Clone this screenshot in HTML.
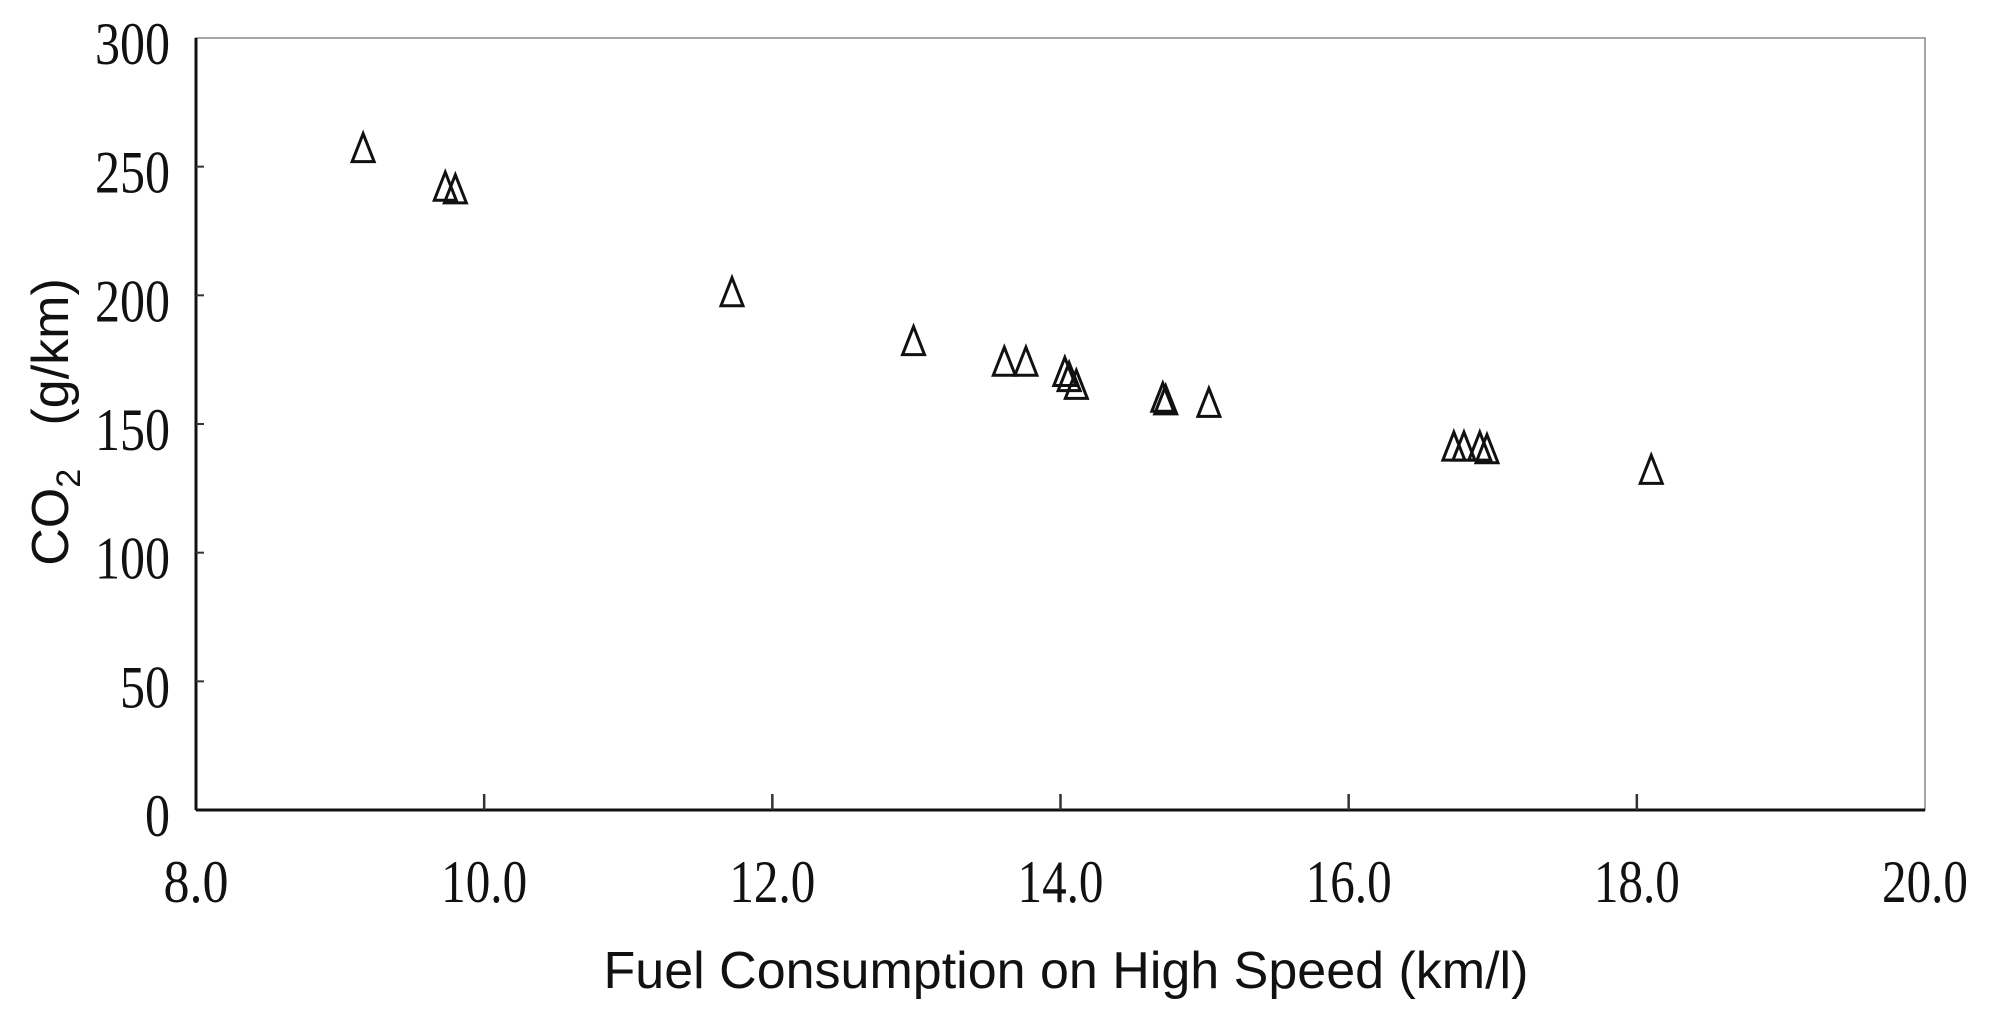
<!DOCTYPE html>
<html><head><meta charset="utf-8"><style>
html,body{margin:0;padding:0;background:#fff;}
svg{display:block;}
.tick{font-family:"Liberation Serif",serif;font-size:60px;fill:#111;}
.ttl{font-family:"Liberation Sans",sans-serif;font-size:52px;fill:#111;}
</style></head><body>
<svg id="chart" width="1994" height="1015" viewBox="0 0 1994 1015">
<g id="axes"></g>
<g id="marks"></g>
<text class="ttl" x="1066" y="988" text-anchor="middle">Fuel Consumption on High Speed (km/l)</text>
<text class="ttl" transform="translate(68,422) rotate(-90)" text-anchor="middle" xml:space="preserve">CO<tspan font-size="34" dy="12">2</tspan><tspan dy="-12">   (g/km)</tspan></text>
</svg>
<script>
const xValues=[9.16,9.73,9.80,11.72,12.98,13.61,13.76,14.03,14.06,14.11,14.71,14.73,15.03,16.73,16.80,16.91,16.96,18.10];
const yValues=[257,242,241,201,182,174,174,170,168,165,160,159,158,141,141,141,140,132];
const xTicks=["8.0","10.0","12.0","14.0","16.0","18.0","20.0"];
const yTicks=["0","50","100","150","200","250","300"];
const L=196,R=1925,T=38,B=810;
const xs=v=>L+(v-8)/12*(R-L);
const ys=v=>B-v/300*(B-T);
const NS="http://www.w3.org/2000/svg";
const ax=document.getElementById('axes'),mk=document.getElementById('marks');
function mkEl(t,a,p){const e=document.createElementNS(NS,t);for(const k in a)e.setAttribute(k,a[k]);p.appendChild(e);return e;}
const frame=mkEl('rect',{x:L,y:T,width:R-L,height:B-T,fill:'none',stroke:'#888','stroke-width':1.5},ax);


const xl=mkEl('line',{x1:L,y1:B,x2:R,y2:B,stroke:'#111','stroke-width':3},ax);


const yl=mkEl('line',{x1:L,y1:T,x2:L,y2:B,stroke:'#111','stroke-width':3},ax);


xTicks.forEach(t=>{const v=parseFloat(t),x=xs(v);
 if(v>8&&v<20){const tk=mkEl('line',{x1:x,y1:B,x2:x,y2:B-16,stroke:'#333','stroke-width':2.5},ax);
 
 }
 const tx=mkEl('text',{x:x,y:902,'text-anchor':'middle',class:'tick',textLength:t.length*21+2,lengthAdjust:'spacingAndGlyphs'},ax);tx.textContent=t;
 
 });
yTicks.forEach(t=>{const v=parseFloat(t),y=ys(v);
 if(v>0&&v<300){const tk=mkEl('line',{x1:L,y1:y,x2:L+8,y2:y,stroke:'#333','stroke-width':2},ax);
 
 }
 const tx=mkEl('text',{x:170,y:y+26,'text-anchor':'end',class:'tick',textLength:t.length*25,lengthAdjust:'spacingAndGlyphs'},ax);tx.textContent=t;
 
 });
xValues.forEach((xv,i)=>{const x=xs(xv),y=ys(yValues[i]);
 const p=mkEl('polygon',{points:`${x},${y-15} ${x-11},${y+13} ${x+11},${y+13}`,fill:'none',stroke:'#111','stroke-width':3,'stroke-linejoin':'miter'},mk);
 
 });
</script>
</body></html>
